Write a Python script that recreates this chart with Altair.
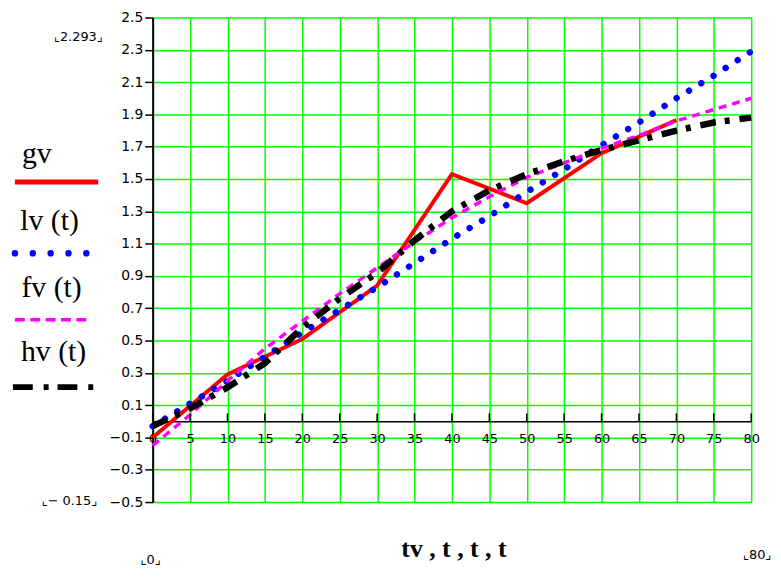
import altair as alt
import pandas as pd

# ---- data ----
t = [0, 5, 10, 15, 20, 25, 30, 35, 40, 45, 50, 55, 60, 65, 70, 75, 80]
tv = [0, 10, 20, 30, 40, 50, 60, 70]
gv = [-0.10, 0.29, 0.51, 0.84, 1.53, 1.35, 1.66, 1.865]
lv = [-0.03, 0.11, 0.25, 0.40, 0.55, 0.69, 0.83, 0.98, 1.13, 1.27, 1.42, 1.56, 1.71, 1.85, 2.00, 2.14, 2.29]
fv = [-0.15, 0.04, 0.25, 0.45, 0.62, 0.79, 0.95, 1.11, 1.26, 1.39, 1.51, 1.60, 1.69, 1.77, 1.86, 1.93, 2.00]
hv = [-0.03, 0.08, 0.21, 0.36, 0.58, 0.76, 0.92, 1.12, 1.30, 1.43, 1.53, 1.61, 1.68, 1.74, 1.80, 1.85, 1.88]

x_ticks = [0, 5, 10, 15, 20, 25, 30, 35, 40, 45, 50, 55, 60, 65, 70, 75, 80]
y_ticks = [-0.5, -0.3, -0.1, 0.1, 0.3, 0.5, 0.7, 0.9, 1.1, 1.3, 1.5, 1.7, 1.9, 2.1, 2.3, 2.5]

legend_labels = ["gv", "lv (t)", "fv (t)", "hv (t)"]
x_title = "tv , t , t , t"
y_max_label = "⌞2.293⌟"
y_min_label = "⌞− 0.15⌟"
x_min_label = "⌞0⌟"
x_max_label = "⌞80⌟"

W, H = 604, 489
GREEN = "#00ff00"

xscale = alt.Scale(domain=[0, 80], nice=False, zero=False)
yscale = alt.Scale(domain=[-0.5, 2.5], nice=False, zero=False)

y_axis = alt.Axis(values=y_ticks, format=".1f", title=None, grid=True, gridColor=GREEN,
                  gridWidth=1.5, gridOpacity=1, domainColor="black", domainWidth=2,
                  tickColor="black", tickSize=8, tickWidth=1.5, labelFont="DejaVu Sans",
                  labelFontSize=14, labelColor="black", labelPadding=2)

# y position (pixels from top) of value 0
y0_px = H * (2.5 - 0) / 3.0

x_axis = alt.Axis(values=x_ticks, format="d", title=None, grid=True, gridColor=GREEN,
                  gridWidth=1.5, gridOpacity=1, domainColor="black", domainWidth=1.5,
                  ticks=False, tickSize=0, labelFont="DejaVu Sans", labelFontSize=13,
                  labelColor="black", labelPadding=11, offset=-(H - y0_px),
                  labelOverlap=False, labelFlush=False)


def series(xs, ys, **style):
    d = pd.DataFrame({"x": xs, "y": ys})
    return alt.Chart(d).mark_line(clip=False, **style).encode(
        x=alt.X("x:Q", scale=xscale, axis=x_axis),
        y=alt.Y("y:Q", scale=yscale, axis=y_axis),
    )


red = series(tv, gv, color="#ff0000", strokeWidth=4)
blue = series(t, lv, color="#0000ff", strokeWidth=6.5, strokeDash=[0.01, 14.5], strokeCap="round")
mag = series(t, fv, color="#ff00ff", strokeWidth=3.5, strokeDash=[8, 6])
blk = series(t, hv, color="#000000", strokeWidth=6.5, strokeDash=[16, 9, 5, 10], strokeCap="butt")

# upward tick marks on the x axis line (y = 0)
tickdf = pd.DataFrame({"x": x_ticks})
ticklayer = alt.Chart(tickdf).mark_rule(color="black", strokeWidth=1.5).encode(
    x=alt.X("x:Q", scale=xscale, axis=x_axis),
    y=alt.value(y0_px - 8), y2=alt.value(y0_px),
)

one = pd.DataFrame({"a": [0]})


def txt(s, x, y, size, font="DejaVu Sans", weight="normal", align="center"):
    return alt.Chart(one).mark_text(text=s, font=font, fontSize=size, fontWeight=weight,
                                    align=align, baseline="middle", color="black").encode(
        x=alt.value(x), y=alt.value(y))


def sample(x1, x2, y, **style):
    return alt.Chart(one).mark_rule(**style).encode(x=alt.value(x1), x2=alt.value(x2), y=alt.value(y))


leg = [
    txt(legend_labels[0], -117, 138, 30, font="Liberation Serif"),
    sample(-139, -55, 166, color="#ff0000", strokeWidth=5),
    txt(legend_labels[1], -104, 205, 30, font="Liberation Serif"),
    sample(-139, -66, 238, color="#0000ff", strokeWidth=6.5, strokeDash=[0.01, 18], strokeCap="round"),
    txt(legend_labels[2], -102, 273, 30, font="Liberation Serif"),
    sample(-139, -67, 305, color="#ff00ff", strokeWidth=3.5, strokeDash=[10, 5.5]),
    txt(legend_labels[3], -100, 338, 30, font="Liberation Serif"),
    sample(-141, -58, 373, color="#000000", strokeWidth=6, strokeDash=[20, 11, 5, 9]),
]

notes = [
    txt(x_title, 304, 536, 26, font="Liberation Serif", weight="bold"),
    txt(y_max_label, -75, 20, 13),
    txt(y_min_label, -84, 488, 13),
    txt(x_min_label, -2, 547, 13),
    txt(x_max_label, 610, 542, 13),
]

chart = alt.layer(red, blue, mag, blk, ticklayer, *leg, *notes).properties(
    width=W, height=H,
    autosize=alt.AutoSizeParams(type="none"),
    padding={"left": 146, "top": 7, "right": 22, "bottom": 70},
    background="white",
).configure_view(stroke=None)

chart.save("out.html", embed_options={"renderer": "svg", "actions": False})
